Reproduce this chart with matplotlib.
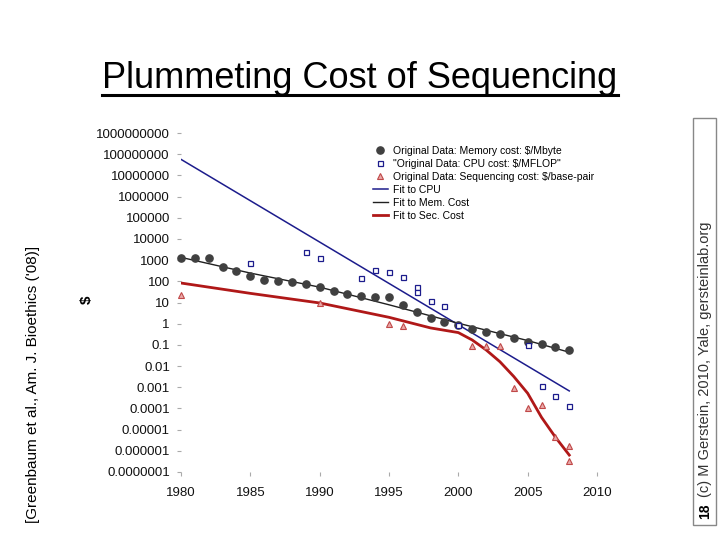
"""Plummeting cost of sequencing: memory, CPU and sequencing cost vs year (log scale)."""

import matplotlib

matplotlib.use("Agg")
import matplotlib.pyplot as plt  # noqa: E402
from matplotlib.lines import Line2D  # noqa: E402
from matplotlib.patches import Rectangle  # noqa: E402

plt.rcParams["font.family"] = ["Liberation Sans", "DejaVu Sans"]

# --- data --------------------------------------------------------------
mem_years = list(range(1980, 2009))
mem_cost = [1200, 1200, 1230, 490, 310, 174, 115, 103, 88, 75,
            55, 35, 24.5, 21, 19, 17.6, 7.8, 3.6, 1.76, 1.26,
            0.84, 0.58, 0.42, 0.32, 0.20, 0.14, 0.114, 0.077, 0.056]

cpu_years = [1985, 1989, 1990, 1993, 1994, 1995, 1996, 1997, 1997,
             1998, 1999, 2000, 2005, 2006, 2007, 2008]
cpu_cost = [730, 2500, 1230, 138, 330, 270, 166, 56, 30,
            12, 6.9, 0.9, 0.1, 0.0011, 3.9e-4, 1.3e-4]

seq_years = [1980, 1990, 1995, 1996, 2001, 2002, 2003, 2004, 2005,
             2006, 2007, 2008, 2008]
seq_cost = [22.6, 9.8, 0.93, 0.78, 0.084, 0.089, 0.084, 9.5e-4, 1.0e-4,
            1.45e-4, 4.7e-6, 1.7e-6, 3.4e-7]

fit_cpu_years = [1980, 2008]
fit_cpu_cost = [5.7e7, 6.7e-4]

fit_mem_years = [1980, 1985, 1990, 1995, 2000, 2005, 2008]
fit_mem_cost = [1350, 245, 53, 7.8, 1.05, 0.16, 0.045]

fit_seq_years = [1980, 1985, 1990, 1995, 1998, 2000, 2001, 2002, 2003,
                 2004, 2005, 2006, 2007, 2008]
fit_seq_cost = [83, 27, 9.5, 2.0, 0.63, 0.38, 0.17, 0.058, 0.016,
                3.2e-3, 5.2e-4, 3.8e-5, 4.4e-6, 6.3e-7]

x_ticks = [1980, 1985, 1990, 1995, 2000, 2005, 2010]
y_exponents = list(range(-7, 10))
y_tick_labels = ["0.0000001", "0.000001", "0.00001", "0.0001", "0.001",
                 "0.01", "0.1", "1", "10", "100", "1000", "10000",
                 "100000", "1000000", "10000000", "100000000", "1000000000"]

labels = ["Original Data: Memory cost: $/Mbyte",
          "\"Original Data: CPU cost: $/MFLOP\"",
          "Original Data: Sequencing cost: $/base-pair",
          "Fit to CPU",
          "Fit to Mem. Cost",
          "Fit to Sec. Cost"]


def main():
    fig = plt.figure(figsize=(7.2, 5.4), dpi=100)
    W, H = 720, 540
    ax = fig.add_axes([181 / W, 1 - 472 / H, (597 - 181) / W, (472 - 133) / H])
    ax.set_yscale("log")

    l_cpu, = ax.plot(fit_cpu_years, fit_cpu_cost, color="#1c1c8c", lw=1.1, zorder=2)
    l_mem, = ax.plot(fit_mem_years, fit_mem_cost, color="#202020", lw=1.0, zorder=2)
    l_seq, = ax.plot(fit_seq_years, fit_seq_cost, color="#b01818", lw=2.0, zorder=2)

    p_mem, = ax.plot(mem_years, mem_cost, "o", ms=5.2, color="#404040", zorder=3,
                     clip_on=False)
    p_cpu, = ax.plot(cpu_years, cpu_cost, "s", ms=3.6, mfc="white", mec="#1c1c8c",
                     mew=0.9, zorder=3, clip_on=False)
    p_seq, = ax.plot(seq_years, seq_cost, "^", ms=4.3, mfc="#e8a8a8", mec="#c04848",
                     mew=0.8, zorder=3, clip_on=False)

    ax.set_xlim(1980, 2010)
    ax.set_ylim(1e-7, 1e9)
    ax.set_xticks(x_ticks)
    ax.set_yticks([10.0 ** e for e in y_exponents])
    ax.set_yticklabels(y_tick_labels)
    ax.minorticks_off()
    for s in ax.spines.values():
        s.set_visible(False)
    ax.tick_params(axis="both", colors="#aaaaaa", labelcolor="#111111",
                   labelsize=9.5, length=3, width=0.8)
    ax.tick_params(axis="y", pad=5)
    ax.tick_params(axis="x", pad=8)

    ax.legend([p_mem, p_cpu, p_seq, l_cpu, l_mem, l_seq], labels,
              loc="upper left", bbox_to_anchor=(373 / W, 1 - 146 / H),
              bbox_transform=fig.transFigure, frameon=False, fontsize=7.5,
              handlelength=1.4, handletextpad=0.5, labelspacing=0.28,
              borderpad=0, borderaxespad=0)

    fig.text(87 / W, 1 - 300 / H, "$", rotation=90, fontsize=11,
             fontweight="bold", ha="center", va="center")
    fig.text(33 / W, 1 - 384 / H, "[Greenbaum et al., Am. J. Bioethics ('08)]",
             rotation=90, fontsize=11, ha="center", va="center")

    # side credit box
    fig.add_artist(Rectangle((693 / W, 1 - 525 / H), 23 / W, 407 / H,
                             transform=fig.transFigure, fill=False,
                             ec="#888888", lw=1))
    fig.text(705 / W, 1 - 511 / H, "18", rotation=90, fontsize=10,
             fontweight="bold", ha="center", va="center")
    fig.text(705 / W, 1 - 497 / H, "(c) M Gerstein, 2010, Yale, gersteinlab.org",
             rotation=90, fontsize=10.5, ha="left", va="center",
             rotation_mode="anchor", color="#333333")

    title = fig.text(360 / W, 1 - 88 / H, "Plummeting Cost of Sequencing",
                     fontsize=26, ha="center", va="baseline")
    fig.canvas.draw()
    bb = title.get_window_extent(fig.canvas.get_renderer())
    fig.add_artist(Line2D([bb.x0 / W, bb.x1 / W], [1 - 95 / H, 1 - 95 / H],
                          transform=fig.transFigure, color="black", lw=2.2))

    fig.savefig("out.png", dpi=100)
    plt.close(fig)


if __name__ == "__main__":
    main()
